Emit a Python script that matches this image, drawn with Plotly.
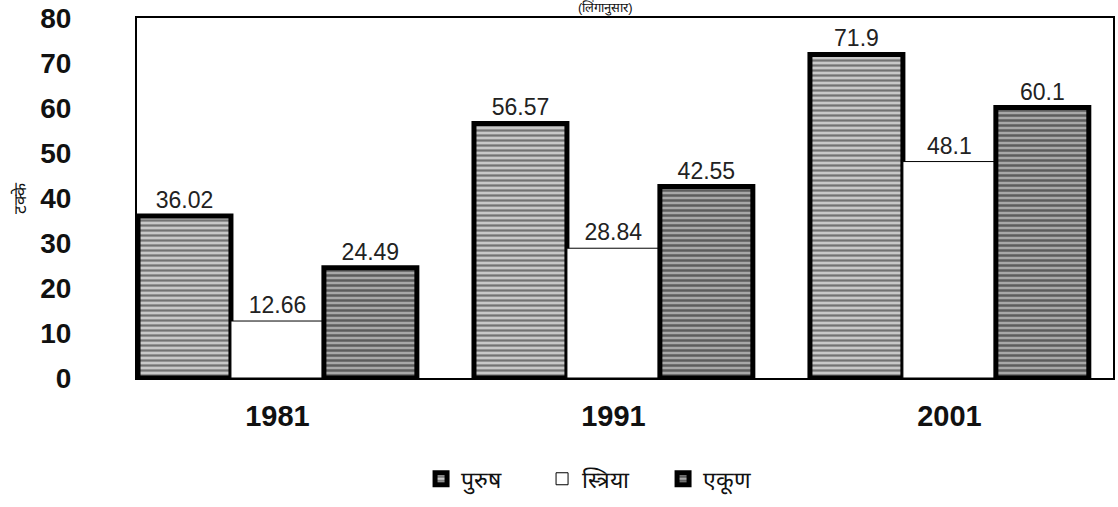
import plotly.graph_objects as go

years = ["1981", "1991", "2001"]
men = [36.02, 56.57, 71.9]
women = [12.66, 28.84, 48.1]
total = [24.49, 42.55, 60.1]
series_names = ["पुरुष", "स्त्रिया", "एकूण"]
y_ticks = [0, 10, 20, 30, 40, 50, 60, 70, 80]

FONT = "Liberation Sans, Arial, sans-serif"

fig = go.Figure()

fig.add_trace(go.Bar(
    name=series_names[0], x=years, y=men,
    text=[f"{v:g}" for v in men], textposition="outside",
    marker=dict(color="#3a3a3a", line=dict(color="#000", width=5),
                pattern=dict(shape="-", bgcolor="#c8c8c8", fgcolor="#1e1e1e", size=5, solidity=0.45)),
))
fig.add_trace(go.Bar(
    name=series_names[1], x=years, y=women,
    text=[f"{v:g}" for v in women], textposition="outside",
    marker=dict(color="#ffffff", line=dict(color="#000", width=1)),
))
fig.add_trace(go.Bar(
    name=series_names[2], x=years, y=total,
    text=[f"{v:g}" for v in total], textposition="outside",
    marker=dict(color="#2a2a2a", line=dict(color="#000", width=5),
                pattern=dict(shape="-", bgcolor="#a8a8a8", fgcolor="#111", size=5, solidity=0.5)),
))

fig.update_traces(textfont=dict(family=FONT, size=23, color="#222"), cliponaxis=False)

fig.update_layout(
    width=1118, height=507,
    margin=dict(l=137, r=5, t=18, b=129),
    paper_bgcolor="white", plot_bgcolor="white",
    barmode="group", bargap=0.17, bargroupgap=0,
    font=dict(family=FONT, color="#111"),
    showlegend=True,
    legend=dict(orientation="h", x=0.477, xanchor="center", y=-0.28, yanchor="middle",
                font=dict(size=23, family=FONT), entrywidth=76, entrywidthmode="pixels",
                traceorder="normal"),
    xaxis=dict(range=[-0.418, 2.487], showline=True, linecolor="#000", linewidth=2, mirror=True,
               tickfont=dict(size=29, family=FONT, weight="bold"), ticks="",
               ticklabelstandoff=11, automargin=False),
    yaxis=dict(range=[0, 80], tickvals=y_ticks, showgrid=False, zeroline=False,
               showline=True, linecolor="#000", linewidth=2, mirror=True,
               tickfont=dict(size=28, family=FONT, weight="bold"), ticks="",
               ticklabelstandoff=58, automargin=False),
)

# y-axis title (rotated)
fig.add_annotation(xref="paper", yref="paper", x=0, xshift=-117, xanchor="center",
                   y=0.5, yanchor="middle", textangle=-90,
                   text="टक्के", showarrow=False, font=dict(size=17, family=FONT, color="#111"))

# chart title (cropped at top in the reference)
fig.add_annotation(xref="paper", yref="paper", x=0.48, y=1.0, yanchor="bottom", yshift=0,
                   text="(लिंगानुसार)", showarrow=False, font=dict(size=13, family=FONT, color="#111"))

fig.write_html("out.html", config={"displayModeBar": False},
               post_script="document.body.style.margin='0';")
